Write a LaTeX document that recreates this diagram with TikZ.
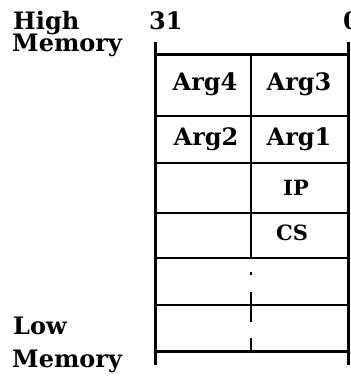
\documentclass[tikz,border=0pt]{standalone}
\usepackage{fontspec}
\setmainfont{DejaVu Serif}
\usetikzlibrary{positioning}

\begin{document}
\begin{tikzpicture}[x=1pt,y=-1pt]

  \useasboundingbox (0,0) rectangle (350,379);

  \tikzstyle{lbl}=[inner sep=0pt,anchor=base west,
                   font=\bfseries\fontsize{24}{26}\selectfont];
  \tikzstyle{cell}=[inner sep=0pt,
                    font=\bfseries\fontsize{24}{26}\selectfont];
  \tikzstyle{small}=[inner sep=0pt,
                     font=\bfseries\fontsize{21}{23}\selectfont];
  \tikzstyle{edge}=[line width=3pt];
  \tikzstyle{rule}=[line width=1.5pt];

  % labels outside the stack
  \node[lbl] (HighTxt) at (13,30) {High};
  \node[lbl] (HighMem) at (12,52) {Memory};
  \node[lbl] (BitHi) at (149,30) {31};
  \node[lbl] (BitLo) at (343,30) {0};
  \node[lbl] (LowTxt) at (13,334) {Low};
  \node[lbl] (LowMem) at (12,367) {Memory};

  % outer frame
  \draw[edge] (155,42) -- (155,365);
  \draw[edge] (348,42) -- (348,365);
  \draw[edge] (155,55) -- (348,55);
  \draw[edge] (155,351) -- (348,351);

  % rows
  \foreach \y in {116,163,213,258,305}
    \draw[rule] (155,\y) -- (348,\y);

  % middle divider
  \draw[rule] (251,55) -- (251,258);
  \draw[rule,dash pattern=on 0pt off 14pt on 3pt off 17pt on 30pt off 16pt on 20pt]
        (251,258) -- (251,351);

  % cell contents
  \node[cell] (ArgFour) at (205,84) {Arg4};
  \node[cell] (ArgThree) at (299,84) {Arg3};
  \node[cell] (ArgTwo) at (206,139) {Arg2};
  \node[cell] (ArgOne) at (299,139) {Arg1};
  \node[small] (IPTxt) at (296,188) {IP};
  \node[small] (CSTxt) at (292,233) {CS};

\end{tikzpicture}
\end{document}
